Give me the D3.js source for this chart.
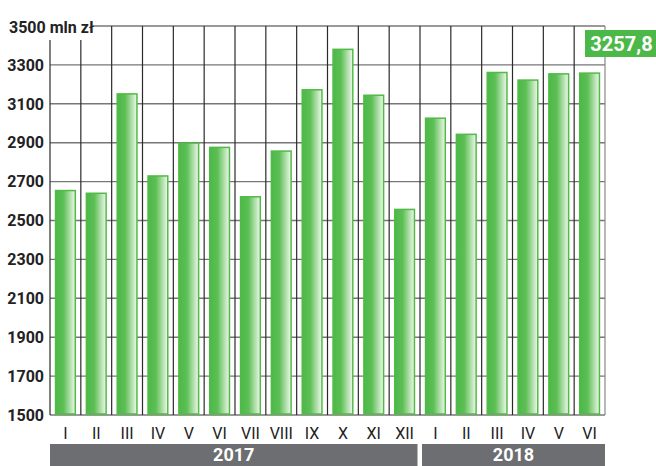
<!DOCTYPE html>
<html><head><meta charset="utf-8">
<script src="https://cdn.jsdelivr.net/npm/d3@7"></script>
<style>
body{margin:0;background:#fff;}
svg{display:block;}
text{font-family:"Roboto","Liberation Sans",sans-serif;}
</style></head>
<body>
<script>
const months = ["I","II","III","IV","V","VI","VII","VIII","IX","X","XI","XII","I","II","III","IV","V","VI"];
const values = [2654,2640,3151,2729,2898,2876,2622,2857,3172,3380,3144,2557,3026,2943,3261,3222,3254,3257.8];
const years = [{label:"2017", from:0, to:12},{label:"2018", from:12, to:18}];
const yTicks = [1500,1700,1900,2100,2300,2500,2700,2900,3100,3300,3500];
const unitLabel = "mln zł";
const lastLabel = "3257,8";

const W=656,H=466;
const svg=d3.select("body").append("svg").attr("width",W).attr("height",H);
const L=50,R=605,T=26,B=415;
const x=d3.scaleBand().domain(d3.range(months.length)).range([L,R]).paddingInner(0).paddingOuter(0);
const y=d3.scaleLinear().domain([1500,3500]).range([B,T]);

const defs=svg.append("defs");
const g=defs.append("linearGradient").attr("id","bg").attr("x1","0").attr("x2","1").attr("y1","0").attr("y2","0");
g.append("stop").attr("offset","0").attr("stop-color","#4cb848");
g.append("stop").attr("offset","0.4").attr("stop-color","#5dbf55");
g.append("stop").attr("offset","0.95").attr("stop-color","#e4f3e1");
g.append("stop").attr("offset","1").attr("stop-color","#eef8ec");

// horizontal grid
svg.append("g").selectAll("line").data(yTicks).join("line")
  .attr("x1",L).attr("x2",R).attr("y1",d=>y(d)).attr("y2",d=>y(d))
  .attr("stroke","#777").attr("stroke-width",1.4);
// vertical grid
const bounds=d3.range(months.length+1).map(i=>i<months.length?x(i):R);
svg.append("g").selectAll("line").data(bounds).join("line")
  .attr("x1",d=>d).attr("x2",d=>d).attr("y1",T).attr("y2",B)
  .attr("stroke",(d,i)=>i===months.length?"#888":"#2a2a2a").attr("stroke-width",1.2);

// bars
const bw=x.bandwidth()*0.64;
svg.append("g").selectAll("rect").data(values).join("rect")
  .attr("x",(d,i)=>x(i)+(x.bandwidth()-bw)/2).attr("width",bw)
  .attr("y",d=>y(d)).attr("height",d=>y(1500)-y(d)-1)
  .attr("fill","url(#bg)").attr("stroke","#52bb47").attr("stroke-width",1.5);

// y tick labels
const yl=svg.append("g");
yTicks.forEach(t=>{
  if(t===3500) return;
  yl.append("text").attr("x",44).attr("y",y(t)).attr("dy","0.36em").attr("text-anchor","end")
    .attr("font-weight","bold").attr("font-size",16).attr("fill","#222").text(t);
});
// top label with white background
svg.append("rect").attr("x",0).attr("y",T-12).attr("width",93).attr("height",26).attr("fill","#fff");
svg.append("text").attr("x",9).attr("y",y(3500)+7).attr("font-weight","bold").attr("font-size",16).attr("fill","#222")
  .text("3500 "+unitLabel);

// month labels
svg.append("g").selectAll("text").data(months).join("text")
  .attr("x",(d,i)=>x(i)+x.bandwidth()/2).attr("y",439).attr("text-anchor","middle")
  .attr("font-size",16).attr("fill","#222").text(d=>d);

// year bands
years.forEach((yy,k)=>{
  const x0=x(yy.from)+(k>0?2:0);
  const x1=(yy.to<months.length?x(yy.to)-2.5:R);
  svg.append("rect").attr("x",x0).attr("y",444).attr("width",x1-x0).attr("height",H-444).attr("fill","#6d6e71");
  svg.append("text").attr("x",(x0+x1)/2).attr("y",461).attr("text-anchor","middle")
    .attr("font-weight","bold").attr("font-size",18).attr("fill","#fff").text(yy.label);
});

// last value label
svg.append("rect").attr("x",585).attr("y",30).attr("width",W-585).attr("height",27).attr("fill","#4cb848");
svg.append("text").attr("x",(585+W)/2+1).attr("y",51).attr("text-anchor","middle")
  .attr("font-weight","bold").attr("font-size",20).attr("fill","#fff").text(lastLabel);
</script>
</body></html>
